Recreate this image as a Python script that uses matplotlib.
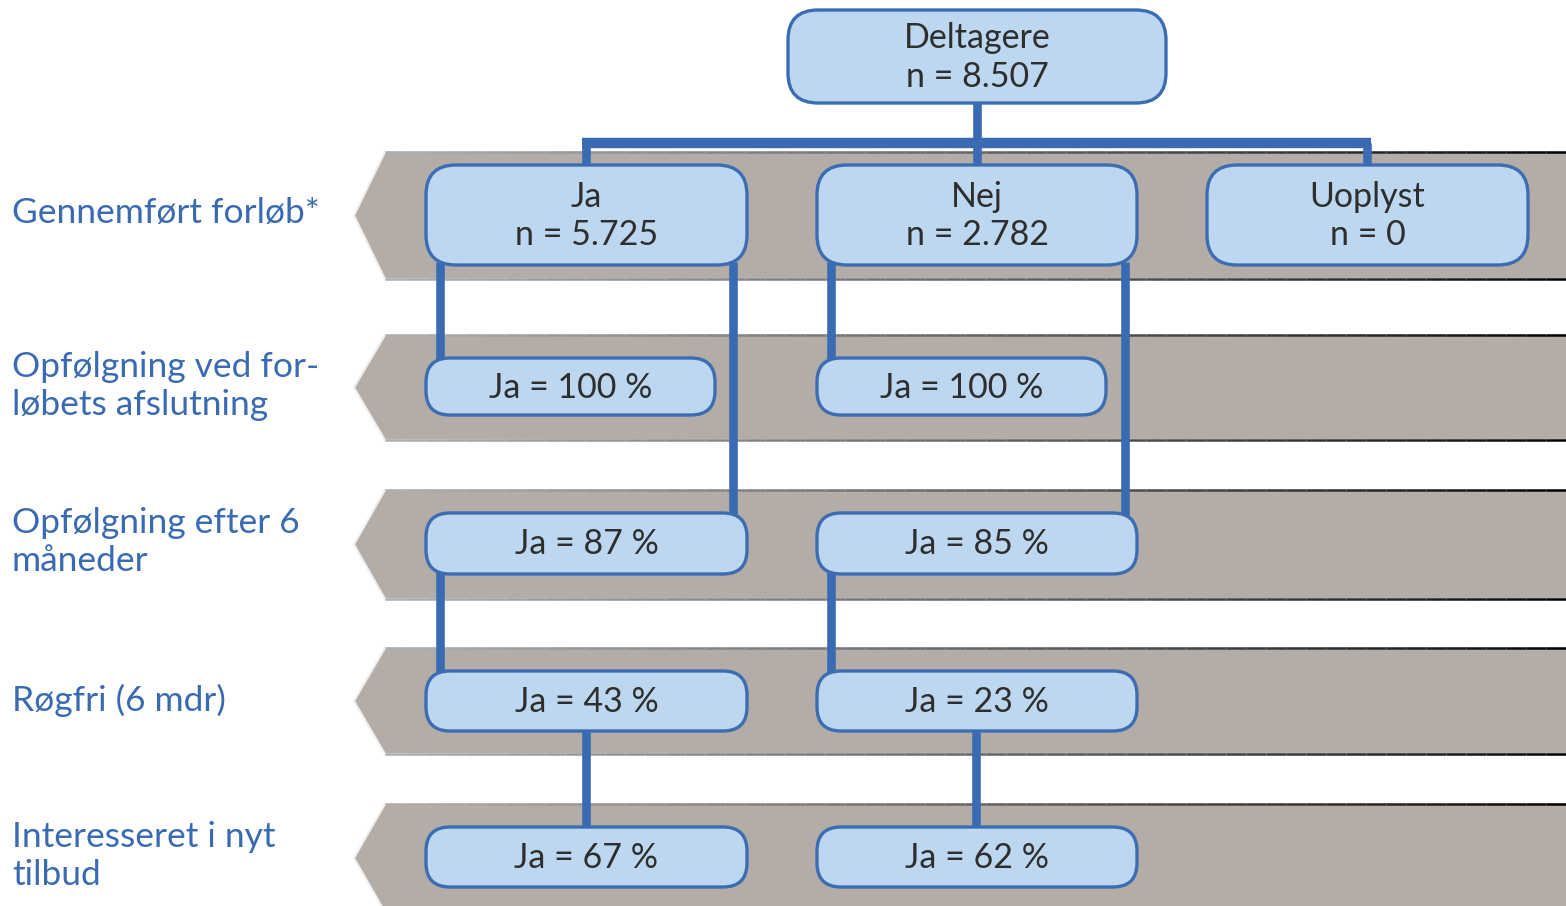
import matplotlib.pyplot as plt
from matplotlib.patches import FancyBboxPatch, Polygon
from matplotlib.collections import LineCollection
import numpy as np

plt.rcParams['font.family'] = ['Lato', 'DejaVu Sans']

# data
row_labels = ["Gennemført forløb*", "Opfølgning ved for-\nløbets afslutning",
              "Opfølgning efter 6\nmåneder", "Røgfri (6 mdr)", "Interesseret i nyt\ntilbud"]
total_n = 8507
groups = ["Ja", "Nej", "Uoplyst"]
group_n = [5725, 2782, 0]
followup_end = [100, 100]
followup_6m = [87, 85]
smokefree = [43, 23]
interested = [67, 62]

BLUE = '#3a6bb2'
FILL = '#bcd7ef'
EDGE = '#3c6db3'
GRAY = '#b3aca7'
TXT = '#2e2e2e'

def fmt(n):
    return f"{n:,}".replace(",", ".")

fig = plt.figure(figsize=(15.66, 9.06), dpi=100)
ax = fig.add_axes([0, 0, 1, 1])
ax.set_xlim(0, 1566)
ax.set_ylim(906, 0)
ax.axis('off')

# bands (top, bottom)
bands = [(152, 279), (335, 440), (490, 599), (648, 754), (804, 912)]
for top, bot in bands:
    mid = (top + bot) / 2
    ax.add_patch(Polygon([(385, top), (1570, top), (1570, bot), (385, bot), (354, mid)],
                         closed=True, facecolor=GRAY, edgecolor='#eeeeee', lw=1.5, zorder=1))
    xs = np.linspace(385, 1566, 60)
    for yy in (top, bot):
        segs = [[(xs[i], yy), (xs[i + 1], yy)] for i in range(len(xs) - 1)]
        shade = np.linspace(0.62, 0.0, len(segs)) ** 0.8
        cols = [(s, s, s) for s in shade]
        ax.add_collection(LineCollection(segs, colors=cols, linewidths=1.8, zorder=1.5))

def box(x0, x1, y0, y1, text, r=26):
    ax.add_patch(FancyBboxPatch((x0, y0), x1 - x0, y1 - y0,
                                boxstyle=f"round,pad=0,rounding_size={r}",
                                facecolor=FILL, edgecolor=EDGE, lw=2.4, zorder=4))
    ax.text((x0 + x1) / 2, (y0 + y1) / 2 + 1, text, ha='center', va='center',
            fontsize=24.5, color=TXT, linespacing=1.25, zorder=5)

def line(xs, ys, lw=6.2):
    ax.plot(xs, ys, color=BLUE, lw=lw, solid_capstyle='butt', zorder=3)

# connectors
line([977, 977], [100, 168])
line([582, 1371], [143, 143], lw=7.5)
line([586, 586], [143, 168])
line([1367, 1367], [143, 168])
for cx in (440, 831):
    line([cx, cx], [262, 361])
    line([cx, cx], [570, 674])
for cx in (733, 1125):
    line([cx, cx], [262, 516])
for cx in (586, 976):
    line([cx, cx], [728, 830])

# boxes
box(788, 1166, 10, 103, f"Deltagere\nn = {fmt(total_n)}", r=30)
col_x = [(426, 747), (817, 1137), (1207, 1528)]
for (x0, x1), g, n in zip(col_x, groups, group_n):
    box(x0, x1, 165, 265, f"{g}\nn = {fmt(n)}", r=30)
for i, v in enumerate(followup_end):
    x0 = col_x[i][0]
    box(x0, x0 + 289, 358, 415, f"Ja = {v} %", r=24)
for i, v in enumerate(followup_6m):
    box(col_x[i][0], col_x[i][1], 513, 574, f"Ja = {v} %", r=24)
for i, v in enumerate(smokefree):
    box(col_x[i][0], col_x[i][1], 671, 731, f"Ja = {v} %", r=24)
for i, v in enumerate(interested):
    box(col_x[i][0], col_x[i][1], 827, 887, f"Ja = {v} %", r=24)

# row labels
label_y = [213, 386, 542, 700, 856]
for lab, y in zip(row_labels, label_y):
    ax.text(12, y, lab, ha='left', va='center', fontsize=25.5, color=BLUE,
            linespacing=1.2, zorder=5)

fig.savefig('out.png', dpi=100)
